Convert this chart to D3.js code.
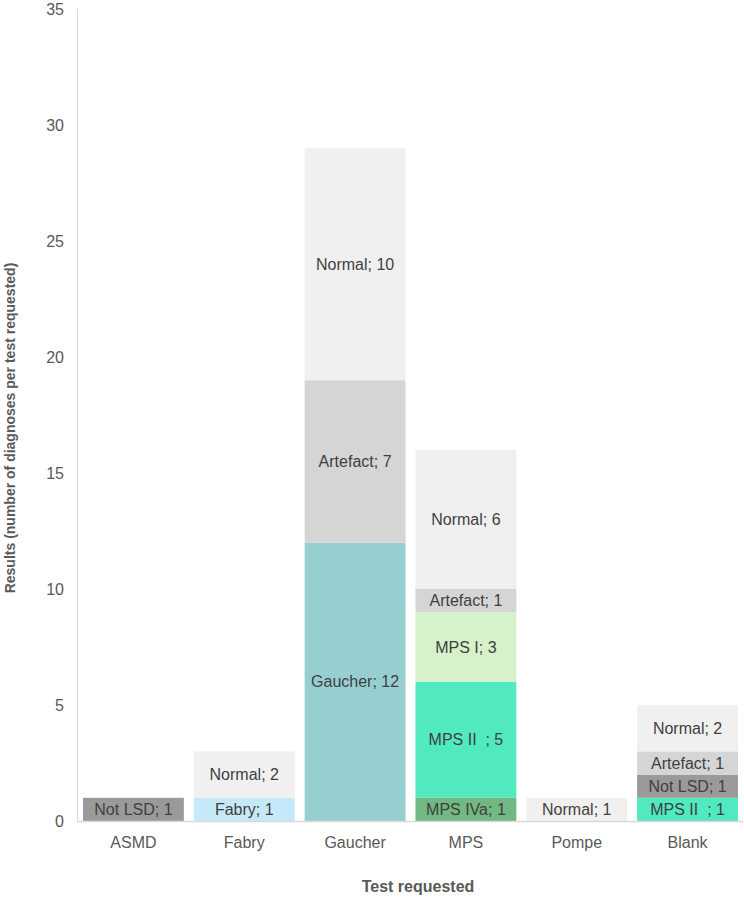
<!DOCTYPE html>
<html>
<head>
<meta charset="utf-8">
<script src="https://cdn.jsdelivr.net/npm/d3@7"></script>
<style>
body { margin: 0; background: #fff; }
text { font-family: Arial, "Liberation Sans", sans-serif; }
</style>
</head>
<body>
<script>
var width = 744;
var height = 900;

var categories = ["ASMD", "Fabry", "Gaucher", "MPS", "Pompe", "Blank"];
// stacked bottom to top
var seriesNames = ["Fabry", "Gaucher", "MPS IVa", "MPS II  ", "MPS I", "Not LSD", "Artefact", "Normal"];
var fabry   = [0, 1, 0, 0, 0, 0];
var gaucher = [0, 0, 12, 0, 0, 0];
var mpsIVa  = [0, 0, 0, 1, 0, 0];
var mpsII   = [0, 0, 0, 5, 0, 1];
var mpsI    = [0, 0, 0, 3, 0, 0];
var notLSD  = [1, 0, 0, 0, 0, 1];
var artefact = [0, 0, 7, 1, 0, 1];
var normal  = [0, 2, 10, 6, 1, 2];
var yTicks = [0, 5, 10, 15, 20, 25, 30, 35];

var seriesValues = [fabry, gaucher, mpsIVa, mpsII, mpsI, notLSD, artefact, normal];
var colors = ["#c5e9f8", "#97cfd0", "#72b882", "#50e9c0", "#d6f2cb", "#9a9a9a", "#d5d5d5", "#f0f0f0"];

var table = categories.map(function (c, i) {
    var row = { cat: c };
    seriesNames.forEach(function (s, j) { row[s] = seriesValues[j][i]; });
    return row;
});

var svg = d3.select("body").append("svg").attr("width", width).attr("height", height);

var x = d3.scaleBand().domain(categories).range([78, 743]).paddingInner(0.09).paddingOuter(0.045);
var y = d3.scaleLinear().domain([0, 35]).range([821, 9]);

var stacked = d3.stack().keys(seriesNames)(table);

// axis lines
svg.append("line").attr("x1", 77.5).attr("x2", 77.5).attr("y1", 9).attr("y2", 821)
    .attr("stroke", "#d9d9d9").attr("stroke-width", 1);

var layers = svg.selectAll("g.layer").data(stacked).enter().append("g")
    .attr("class", "layer")
    .attr("fill", function (d, i) { return colors[i]; });

layers.selectAll("rect").data(function (d) { return d; }).enter().append("rect")
    .attr("x", function (d) { return x(d.data.cat); })
    .attr("y", function (d) { return y(d[1]); })
    .attr("width", x.bandwidth())
    .attr("height", function (d) { return y(d[0]) - y(d[1]); });

layers.each(function (layer) {
    d3.select(this).selectAll("text").data(layer.filter(function (d) { return d[1] - d[0] > 0; }))
        .enter().append("text")
        .text(function (d) { return layer.key + "; " + (d[1] - d[0]); })
        .attr("x", function (d) { return x(d.data.cat) + x.bandwidth() / 2; })
        .attr("y", function (d) { return (y(d[0]) + y(d[1])) / 2; })
        .attr("dy", "0.35em")
        .attr("text-anchor", "middle")
        .attr("font-size", 16)
        .attr("fill", "#404040")
        .style("white-space", "pre");
});

svg.append("line").attr("x1", 77).attr("x2", 743).attr("y1", 821.5).attr("y2", 821.5)
    .attr("stroke", "#d9d9d9").attr("stroke-width", 1.5);

// y tick labels
svg.selectAll("text.ytick").data(yTicks).enter().append("text")
    .attr("class", "ytick")
    .text(function (d) { return d; })
    .attr("x", 64)
    .attr("y", function (d) { return y(d); })
    .attr("dy", "0.35em")
    .attr("text-anchor", "end")
    .attr("font-size", 16)
    .attr("fill", "#595959");

// x tick labels
svg.selectAll("text.xtick").data(categories).enter().append("text")
    .attr("class", "xtick")
    .text(function (d) { return d; })
    .attr("x", function (d) { return x(d) + x.bandwidth() / 2; })
    .attr("y", 842)
    .attr("dy", "0.35em")
    .attr("text-anchor", "middle")
    .attr("font-size", 16)
    .attr("fill", "#595959");

svg.append("text").text("Test requested")
    .attr("x", 418).attr("y", 886).attr("dy", "0.35em")
    .attr("text-anchor", "middle").attr("font-size", 16).attr("font-weight", "bold").attr("fill", "#595959");

svg.append("text").text("Results (number of diagnoses per test requested)")
    .attr("transform", "translate(10,428) rotate(-90)")
    .attr("dy", "0.35em")
    .attr("text-anchor", "middle").attr("font-size", 14).attr("font-weight", "bold").attr("fill", "#595959");
</script>
</body>
</html>
